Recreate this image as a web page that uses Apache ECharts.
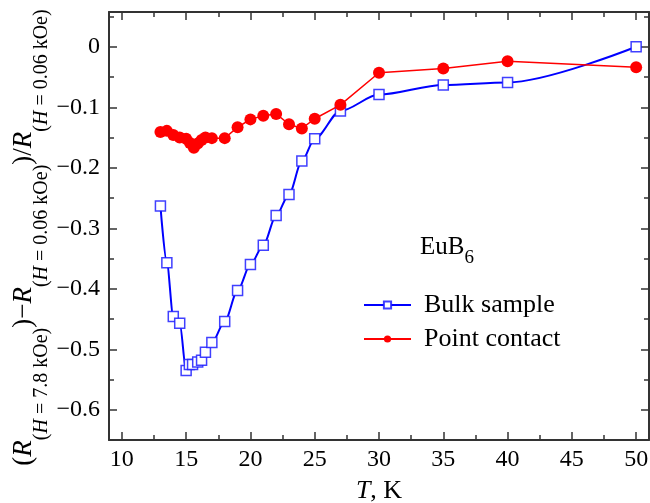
<!DOCTYPE html>
<html>
<head>
<meta charset="utf-8">
<script src="https://cdn.jsdelivr.net/npm/echarts@6/dist/echarts.min.js"></script>
<style>html,body{margin:0;padding:0;background:#fff}#c{width:650px;height:503px}</style>
</head>
<body>
<div id="c"></div>
<script>
// Bulk sample (T in K, relative magnetoresistance)
var bulkT = [13, 13.5, 14, 14.5, 15, 15.25, 15.5, 15.9, 16.2, 16.5, 17, 18, 19, 20, 21, 22, 23, 24, 25, 27, 30, 35, 40, 50];
var bulkV = [-0.263, -0.357, -0.446, -0.457, -0.535, -0.525, -0.525, -0.521, -0.518, -0.505, -0.489, -0.454, -0.403, -0.360, -0.328, -0.279, -0.244, -0.189, -0.152, -0.106, -0.079, -0.063, -0.059, 0.0];
// Point contact
var pcT = [13, 13.5, 14, 14.5, 15, 15.3, 15.6, 15.9, 16.2, 16.5, 17, 18, 19, 20, 21, 22, 23, 24, 25, 27, 30, 35, 40, 50];
var pcV = [-0.141, -0.139, -0.146, -0.150, -0.152, -0.159, -0.167, -0.160, -0.154, -0.150, -0.151, -0.151, -0.133, -0.120, -0.114, -0.111, -0.128, -0.135, -0.119, -0.096, -0.043, -0.036, -0.024, -0.034];
// Tick values
var xMajor = [10, 15, 20, 25, 30, 35, 40, 45, 50];
var xMinor = [12.5, 17.5, 22.5, 27.5, 32.5, 37.5, 42.5, 47.5];
var yMajor = [-0.6, -0.5, -0.4, -0.3, -0.2, -0.1, 0];
var yMinor = [-0.65, -0.55, -0.45, -0.35, -0.25, -0.15, -0.05, 0.05];

var FONT = '"Liberation Serif", "Times New Roman", serif';
var X_MIN = 9, X_MAX = 51, Y_MIN = -0.65, Y_MAX = 0.0575;
var lineCol = '#333';

function zip(a, b) { return a.map(function (v, i) { return [v, b[i]]; }); }

function xAx(pos, vals, len, showLine, labels) {
  return {
    type: 'value', position: pos, min: X_MIN, max: X_MAX, offset: 0,
    axisLine: { show: showLine, onZero: false, lineStyle: { color: lineCol, width: 2 } },
    axisTick: { show: true, inside: true, length: len, customValues: vals, lineStyle: { color: lineCol, width: 1.5 } },
    axisLabel: labels ? { show: true, customValues: vals, fontFamily: FONT, fontSize: 24, color: '#000', margin: 8 } : { show: false },
    splitLine: { show: false }
  };
}
function yAx(pos, vals, len, showLine, labels) {
  return {
    type: 'value', position: pos, min: Y_MIN, max: Y_MAX, offset: 0,
    axisLine: { show: showLine, onZero: false, lineStyle: { color: lineCol, width: 2 } },
    axisTick: { show: true, inside: true, length: len, customValues: vals, lineStyle: { color: lineCol, width: 1.5 } },
    axisLabel: labels ? {
      show: true, customValues: vals, fontFamily: FONT, fontSize: 24, color: '#000', margin: 9,
      formatter: function (v) { return v === 0 ? '0' : (v < 0 ? '\u2212' : '') + Math.abs(v).toFixed(1); }
    } : { show: false },
    splitLine: { show: false }
  };
}

var xAxes = [xAx('bottom', xMajor, 8, true, true), xAx('bottom', xMinor, 5, false, false),
             xAx('top', xMajor, 8, true, false), xAx('top', xMinor, 5, false, false)];
xAxes[0].name = '{i|T}{n|, K}';
xAxes[0].nameLocation = 'middle';
xAxes[0].nameGap = 38;
xAxes[0].nameMoveOverlap = false;
xAxes[0].nameTextStyle = { rich: {
  i: { fontFamily: FONT, fontSize: 26, fontStyle: 'italic', color: '#000' },
  n: { fontFamily: FONT, fontSize: 26, color: '#000' } } };

var yAxes = [yAx('left', yMajor, 8, true, true), yAx('left', yMinor, 5, false, false),
             yAx('right', yMajor, 8, true, false), yAx('right', yMinor, 5, false, false)];
var M = { fontFamily: FONT, fontSize: 27, lineHeight: 30, verticalAlign: 'top', color: '#000' };
var S = { fontFamily: FONT, fontSize: 20, lineHeight: 20, verticalAlign: 'top', padding: [22, 0, 0, 0], color: '#000' };
yAxes[0].name = '{p|(}{i|R}{s|(}{si|H}{s| = 7.8 kOe)}{p|)\u2212}{i|R}{s|(}{si|H}{s| = 0.06 kOe)}{p|)/}{i|R}{s|(}{si|H}{s| = 0.06 kOe)}';
yAxes[0].nameLocation = 'middle';
yAxes[0].nameRotate = 90;
yAxes[0].nameGap = 69;
yAxes[0].nameMoveOverlap = false;
yAxes[0].nameTextStyle = { padding: [0, 23, 0, 0], rich: {
  p: M, i: Object.assign({}, M, { fontStyle: 'italic' }),
  s: S, si: Object.assign({}, S, { fontStyle: 'italic' }) } };

var chart = echarts.init(document.getElementById('c'), null, { renderer: 'canvas' });
chart.setOption({
  animation: false,
  backgroundColor: '#fff',
  grid: { left: 109, right: 1, top: 12, bottom: 63, containLabel: false, outerBoundsMode: 'none' },
  xAxis: xAxes,
  yAxis: yAxes,
  legend: {
    orient: 'vertical', left: 358, top: 287, itemWidth: 47, itemHeight: 9, itemGap: 8,
    data: ['Bulk sample', 'Point contact'],
    textStyle: { fontFamily: FONT, fontSize: 26, color: '#000', padding: [0, 0, 0, 8] }
  },
  graphic: [{
    type: 'text', left: 420, top: 235,
    style: {
      text: '{a|EuB}{b|6}',
      rich: {
        a: { fontFamily: FONT, fontSize: 25, lineHeight: 28, verticalAlign: 'top', fill: '#000', color: '#000' },
        b: { fontFamily: FONT, fontSize: 19, lineHeight: 20, verticalAlign: 'top', padding: [14, 0, 0, 0], fill: '#000', color: '#000' }
      }
    }
  }],
  series: [
    {
      name: 'Bulk sample', type: 'line', xAxisIndex: 0, yAxisIndex: 0,
      data: zip(bulkT, bulkV),
      smooth: 0.3, smoothMonotone: 'x',
      symbol: 'rect', symbolSize: 10,
      itemStyle: { color: '#ffffff', borderColor: 'rgba(30,30,255,0.85)', borderWidth: 1.5 },
      lineStyle: { color: '#0000ff', width: 2 },
      z: 2
    },
    {
      name: 'Point contact', type: 'line', xAxisIndex: 0, yAxisIndex: 0,
      data: zip(pcT, pcV),
      symbol: 'circle', symbolSize: 12,
      itemStyle: { color: '#ff0000' },
      lineStyle: { color: '#ff0000', width: 1.5 },
      z: 3
    }
  ]
});
</script>
</body>
</html>
